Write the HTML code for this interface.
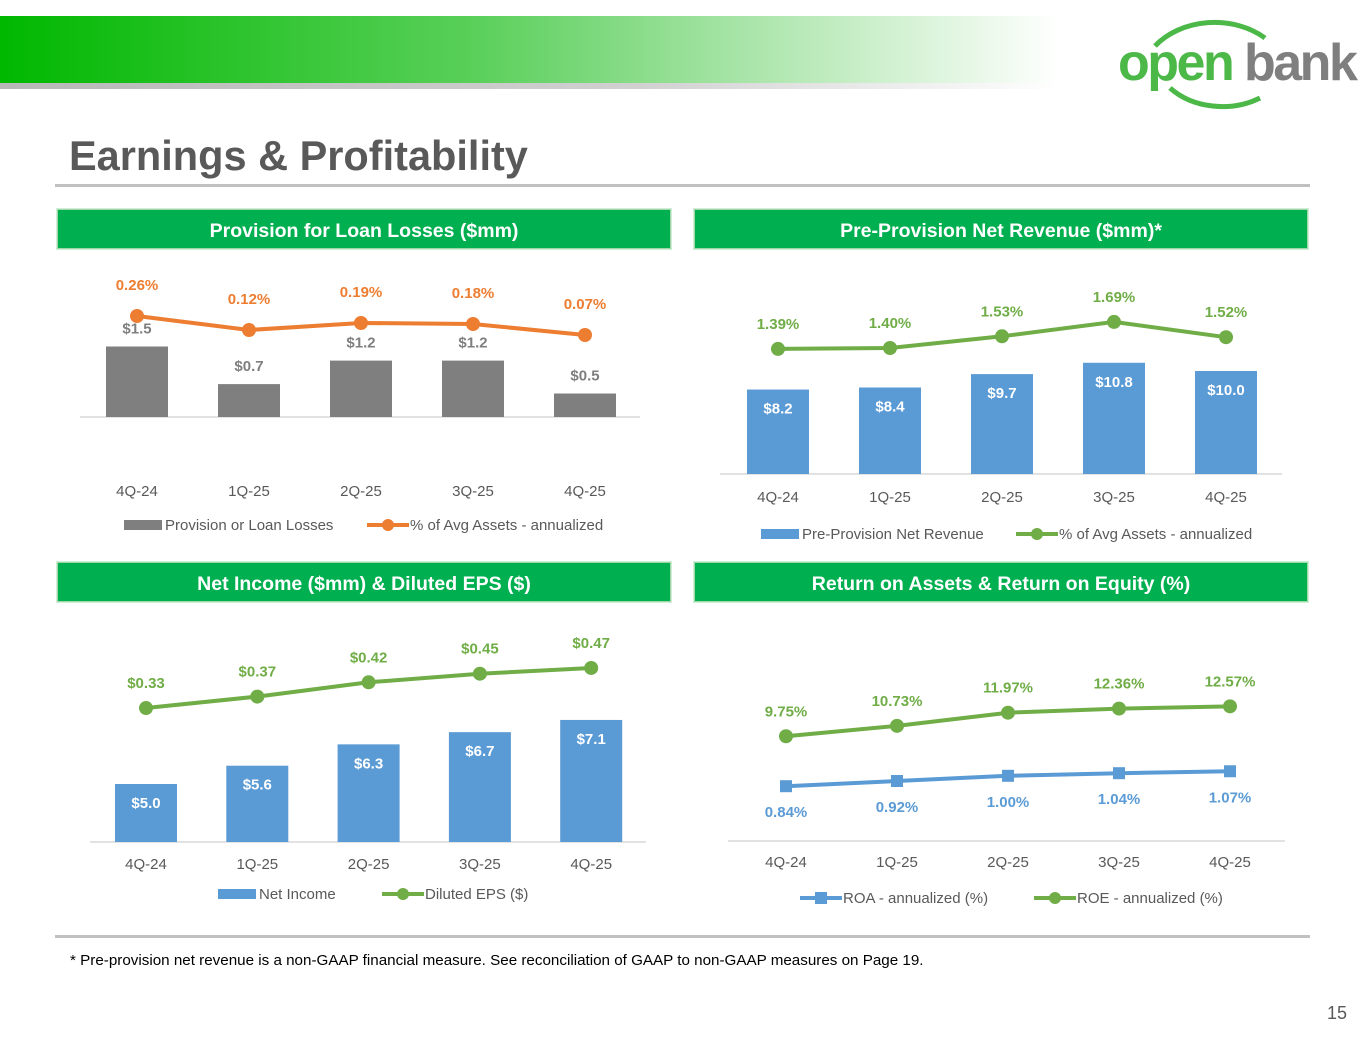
<!DOCTYPE html>
<html><head><meta charset="utf-8"><style>
body{margin:0;width:1365px;height:1055px;background:#fff;position:relative;overflow:hidden;font-family:"Liberation Sans",sans-serif}
.abs{position:absolute}
.hdr{position:absolute;height:38px;background:#00b050;border:1px solid #9fd9a9;color:#fff;font-weight:bold;font-size:19.5px;text-align:center;line-height:42px;box-shadow:0 0 0 1px #d0eed5}
</style></head><body>
<div class="abs" style="left:0;top:16px;width:1060px;height:67px;background:linear-gradient(to right,#00b800,#5ad05a 45%,#a8e4a8 70%,#fff)"></div>
<div class="abs" style="left:0;top:83px;width:1060px;height:6px;background:linear-gradient(to right,#b8b8b8,#d0d0d0 60%,#fff)"></div>
<svg class="abs" style="left:1110px;top:18px" width="255" height="95">
<path d="M45 28 A75 60 0 0 1 155 20" fill="none" stroke="#4cb848" stroke-width="5"/>
<path d="M60 70 A70 55 0 0 0 150 80" fill="none" stroke="#4cb848" stroke-width="5"/>
<text x="8" y="62" font-size="52" font-weight="bold" fill="#4cb848" font-family="Liberation Sans" letter-spacing="-2.5">open</text>
<text x="134" y="62" font-size="52" font-weight="bold" fill="#7f7f7f" font-family="Liberation Sans" letter-spacing="-2.5">bank</text>
</svg>
<div class="abs" style="left:69px;top:132px;font-size:41.5px;font-weight:bold;color:#595959">Earnings &amp; Profitability</div>
<div class="abs" style="left:55px;top:184px;width:1255px;height:3px;background:#c0c0c0"></div>
<div class="hdr" style="left:57px;top:209px;width:612px">Provision for Loan Losses ($mm)</div>
<div class="hdr" style="left:694px;top:209px;width:612px">Pre-Provision Net Revenue ($mm)*</div>
<div class="hdr" style="left:57px;top:562px;width:612px">Net Income ($mm) &amp; Diluted EPS ($)</div>
<div class="hdr" style="left:694px;top:562px;width:612px">Return on Assets &amp; Return on Equity (%)</div>
<svg id="charts" class="abs" style="left:0;top:0" width="1365" height="1055" font-family="Liberation Sans, DejaVu Sans, sans-serif"></svg>
<div class="abs" style="left:55px;top:935px;width:1255px;height:3px;background:#c0c0c0"></div>
<div class="abs" style="left:70px;top:952px;font-size:15.2px;color:#000">* Pre-provision net revenue is a non-GAAP financial measure. See reconciliation of GAAP to non-GAAP measures on Page 19.</div>
<div class="abs" style="left:1327px;top:1003px;font-size:18px;color:#595959">15</div>
<script>
const categories=["4Q-24","1Q-25","2Q-25","3Q-25","4Q-25"];
const provisionValues=[1.5,0.7,1.2,1.2,0.5];
const provisionLabels=["$1.5","$0.7","$1.2","$1.2","$0.5"];
const provisionPct=[0.26,0.12,0.19,0.18,0.07];
const provisionPctLabels=["0.26%","0.12%","0.19%","0.18%","0.07%"];
const ppnrValues=[8.2,8.4,9.7,10.8,10.0];
const ppnrLabels=["$8.2","$8.4","$9.7","$10.8","$10.0"];
const ppnrPct=[1.39,1.40,1.53,1.69,1.52];
const ppnrPctLabels=["1.39%","1.40%","1.53%","1.69%","1.52%"];
const netIncomeValues=[5.0,5.6,6.3,6.7,7.1];
const netIncomeLabels=["$5.0","$5.6","$6.3","$6.7","$7.1"];
const epsValues=[0.33,0.37,0.42,0.45,0.47];
const epsLabels=["$0.33","$0.37","$0.42","$0.45","$0.47"];
const roaValues=[0.84,0.92,1.00,1.04,1.07];
const roaLabels=["0.84%","0.92%","1.00%","1.04%","1.07%"];
const roeValues=[9.75,10.73,11.97,12.36,12.57];
const roeLabels=["9.75%","10.73%","11.97%","12.36%","12.57%"];

const svg=document.getElementById('charts');
const NS="http://www.w3.org/2000/svg";
function mk(tag,a,parent){const e=document.createElementNS(NS,tag);for(const k in a)e.setAttribute(k,a[k]);(parent||svg).appendChild(e);return e;}
function txt(x,y,s,size,fill,weight,parent){const t=mk('text',{x:x,y:y,'font-size':size,fill:fill,'text-anchor':'middle','font-weight':weight||'normal'},parent);t.textContent=s;return t;}

function chart(o){
  const g=mk('g',{});
  
  
  const xAt=i=>o.x0+i*o.step;
  mk('line',{x1:o.axL,x2:o.axR,y1:o.base,y2:o.base,stroke:'#d9d9d9','stroke-width':1.5},g);
  if(o.bars){o.bars.forEach((v,i)=>{
    const h=o.barScale(v);const x=xAt(i);
    const r=mk('rect',{x:x-31,y:o.base-h,width:62,height:h,fill:o.barColor},g);
    
    
    if(o.barInside) txt(x,o.base-h+24,o.barLabels[i],15,'#fff','bold',g);
    else txt(x,o.base-h-13,o.barLabels[i],15,'#7f7f7f','bold',g);
  });}
  o.lines.forEach(L=>{
    const pts=L.values.map((v,i)=>[xAt(i),L.y(v)]);
    const pl=mk('polyline',{points:pts.map(p=>p.join(',')).join(' '),fill:'none',stroke:L.color,'stroke-width':4},g);
    
    
    pts.forEach((p,i)=>{
      let m;
      if(L.square) m=mk('rect',{x:p[0]-6,y:p[1]-6,width:12,height:12,fill:L.color},g);
      else m=mk('circle',{cx:p[0],cy:p[1],r:7,fill:L.color},g);
      
      
      txt(p[0],p[1]+L.labOff,L.labels[i],15,L.color,'bold',g);
    });
  });
  categories.forEach((c,i)=>txt(xAt(i),o.xlabY,c,15,'#595959','normal',g));
  let lx=o.legX;
  o.legend.forEach(l=>{
    const lg=mk('g',{},g);
    
    
    if(l.type==='bar') mk('rect',{x:lx,y:o.legY-10,width:38,height:10,fill:l.color},lg);
    else{mk('line',{x1:lx,x2:lx+42,y1:o.legY-5,y2:o.legY-5,stroke:l.color,'stroke-width':4},lg);
      if(l.square) mk('rect',{x:lx+15,y:o.legY-11,width:12,height:12,fill:l.color},lg);
      else mk('circle',{cx:lx+21,cy:o.legY-5,r:6,fill:l.color},lg);}
    const t=mk('text',{x:lx+(l.type==='bar'?41:43),y:o.legY,'font-size':15,fill:'#595959'},lg);t.textContent=l.text;
    lx+=l.w;
  });
}
const orange='#ed7d31',green='#70ad47',blue='#5b9bd5',gray='#7f7f7f';
chart({name:'provision-chart',x0:137,step:112,base:417,axL:80,axR:640,bars:provisionValues,barLabels:provisionLabels,barColor:gray,barScale:v=>v*47,barInside:false,
  lines:[{name:'provision-pct-line',values:provisionPct,labels:provisionPctLabels,color:orange,y:v=>342-100*v,labOff:-26}],
  xlabY:496,legY:530,legX:124,legend:[{type:'bar',color:gray,text:'Provision or Loan Losses',w:243},{type:'line',color:orange,text:'% of Avg Assets - annualized',w:260}]});
chart({name:'ppnr-chart',x0:778,step:112,base:474,axL:720,axR:1282,bars:ppnrValues,barLabels:ppnrLabels,barColor:blue,barScale:v=>v*10.3,barInside:true,
  lines:[{name:'ppnr-pct-line',values:ppnrPct,labels:ppnrPctLabels,color:green,y:v=>474-90*v,labOff:-20}],
  xlabY:502,legY:539,legX:761,legend:[{type:'bar',color:blue,text:'Pre-Provision Net Revenue',w:255},{type:'line',color:green,text:'% of Avg Assets - annualized',w:260}]});
chart({name:'net-income-chart',x0:146,step:111.3,base:842,axL:90,axR:646,bars:netIncomeValues,barLabels:netIncomeLabels,barColor:blue,barScale:v=>30.5*v-94.5,barInside:true,
  lines:[{name:'eps-line',values:epsValues,labels:epsLabels,color:green,y:v=>802.4-286*v,labOff:-20}],
  xlabY:869,legY:899,legX:218,legend:[{type:'bar',color:blue,text:'Net Income',w:164},{type:'line',color:green,text:'Diluted EPS ($)',w:160}]});
chart({name:'roa-roe-chart',x0:786,step:111,base:841,axL:728,axR:1285,bars:null,
  lines:[{name:'roa-line',values:roaValues,labels:roaLabels,color:blue,square:true,y:v=>840.8-65*v,labOff:31},
         {name:'roe-line',values:roeValues,labels:roeLabels,color:green,y:v=>839.6-10.6*v,labOff:-20}],
  xlabY:867,legY:903,legX:800,legend:[{type:'line',color:blue,square:true,text:'ROA - annualized (%)',w:234},{type:'line',color:green,text:'ROE - annualized (%)',w:200}]});
</script>
</body></html>
